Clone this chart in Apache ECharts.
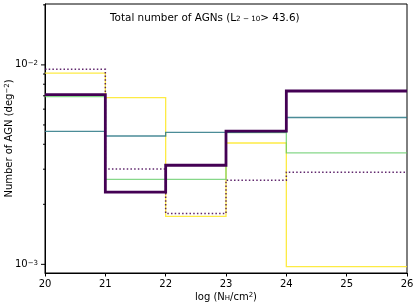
<!DOCTYPE html>
<html><head><meta charset="utf-8">
<script src="https://cdn.jsdelivr.net/npm/echarts@6/dist/echarts.min.js"></script>
<style>html,body{margin:0;padding:0;background:#fff}#c{width:415px;height:305px}</style>
</head><body><div id="c"></div>
<script>
// bin edges of log(NH)
const edges = [20, 21, 22, 23, 24, 26];
// values per bin (deg^-2)
const thickPurple = [0.00709, 0.0023, 0.00314, 0.00466, 0.0074];
const dottedPurple = [0.0095, 0.00301, 0.0018, 0.00264, 0.0029];
const teal = [0.00464, 0.0044, 0.00459, 0.00462, 0.00545];
const green = [0.00694, 0.00267, 0.00267, 0.00458, 0.00362];
const yellow = [0.0091, 0.00686, 0.00174, 0.00406, 0.000974];
const xTicks = [20, 21, 22, 23, 24, 25, 26];
const yMajorTicks = [0.001, 0.01];
const yMinorTicks = [0.002, 0.003, 0.004, 0.005, 0.006, 0.007, 0.008, 0.009, 0.02];
const YMIN = 0.000905, YMAX = 0.0202;

function stepData(vals) {
  const d = [];
  for (let i = 0; i < vals.length; i++) d.push([edges[i], vals[i]]);
  d.push([edges[edges.length - 1], vals[vals.length - 1]]);
  return d;
}
function lineSeries(vals, color, width, type, opacity, z) {
  return {
    type: 'line', step: 'end', data: stepData(vals), symbol: 'none', z: z,
    lineStyle: {color: color, width: width, type: type, opacity: opacity, cap: 'butt', join: 'miter'},
    silent: true, animation: false
  };
}
const FONT = 'DejaVu Sans';
const chart = echarts.init(document.getElementById('c'), null, {renderer: 'canvas'});
const tickData = yMajorTicks.map(v => [v, 4]).concat(yMinorTicks.map(v => [v, 2]));
chart.setOption({
  animation: false,
  textStyle: {fontFamily: FONT},
  title: {
    text: 'Total number of AGNs (L{s|2 − 10}> 43.6)',
    left: 105, top: 8,
    textStyle: {
      fontFamily: FONT, fontSize: 10.4, fontWeight: 'normal', color: '#000',
      rich: {s: {fontFamily: FONT, fontSize: 7.2, verticalAlign: 'bottom', lineHeight: 6, padding: [5, 0, 0, 0]}}
    }
  },
  grid: {left: 45, right: 8, top: 4, bottom: 32, show: true, borderColor: '#000', borderWidth: 1,
         containLabel: false, outerBoundsMode: 'none'},
  xAxis: {
    type: 'value', min: 20, max: 26, interval: 1,
    name: 'log (N{s|H}/cm{p|2})', nameLocation: 'middle', nameGap: 19, nameMoveOverlap: false,
    nameTextStyle: {fontFamily: FONT, fontSize: 10, color: '#000',
      rich: {s: {fontFamily: FONT, fontSize: 7, verticalAlign: 'bottom', lineHeight: 6, padding: [5, 0, 0, 0]},
             p: {fontFamily: FONT, fontSize: 7, verticalAlign: 'top', lineHeight: 6, padding: [0, 0, 5, 0]}}},
    axisLine: {lineStyle: {color: '#000', width: 1}},
    axisTick: {length: 3.5, lineStyle: {color: '#000'}},
    axisLabel: {fontFamily: FONT, fontSize: 10, color: '#000', margin: 6},
    splitLine: {show: false}
  },
  yAxis: {
    type: 'log', logBase: 10, min: YMIN, max: YMAX,
    name: 'Number of AGN (deg{p|−2})', nameLocation: 'middle', nameGap: 31, nameRotate: 90,
    nameMoveOverlap: false,
    nameTextStyle: {fontFamily: FONT, fontSize: 10, color: '#000',
      rich: {p: {fontFamily: FONT, fontSize: 7, verticalAlign: 'top', lineHeight: 6, padding: [0, 0, 5, 0]}}},
    axisLine: {show: true, lineStyle: {color: '#000', width: 1}},
    axisTick: {show: false},
    splitLine: {show: false},
    axisLabel: {
      fontFamily: FONT, fontSize: 10, color: '#000', margin: 7,
      formatter: function (v) {
        const e = Math.log10(v);
        if (Math.abs(e - Math.round(e)) > 1e-6) return '';
        return '10{p|−' + Math.abs(Math.round(e)) + '}';
      },
      rich: {p: {fontFamily: FONT, fontSize: 7, verticalAlign: 'top', lineHeight: 6, padding: [0, 0, 5, 0]}}
    }
  },
  series: [
    lineSeries(yellow, '#fde725', 1.3, 'solid', 0.85, 2),
    lineSeries(green, '#5ec962', 1.3, 'solid', 0.75, 3),
    lineSeries(teal, '#2a7885', 1.3, 'solid', 0.85, 4),
    lineSeries(dottedPurple, '#440154', 1.5, [1.5, 2.2], 0.85, 5),
    lineSeries(thickPurple, '#440154', 2.8, 'solid', 1, 6),
    {
      type: 'custom', data: tickData, silent: true, clip: false, z: 10,
      renderItem: function (params, api) {
        const p = api.coord([20, api.value(0)]);
        const len = api.value(1);
        return {type: 'line', shape: {x1: p[0] - len, y1: p[1], x2: p[0], y2: p[1]},
                style: {stroke: '#000', lineWidth: 1}};
      },
      encode: {x: null, y: 0}
    }
  ]
});
</script></body></html>
